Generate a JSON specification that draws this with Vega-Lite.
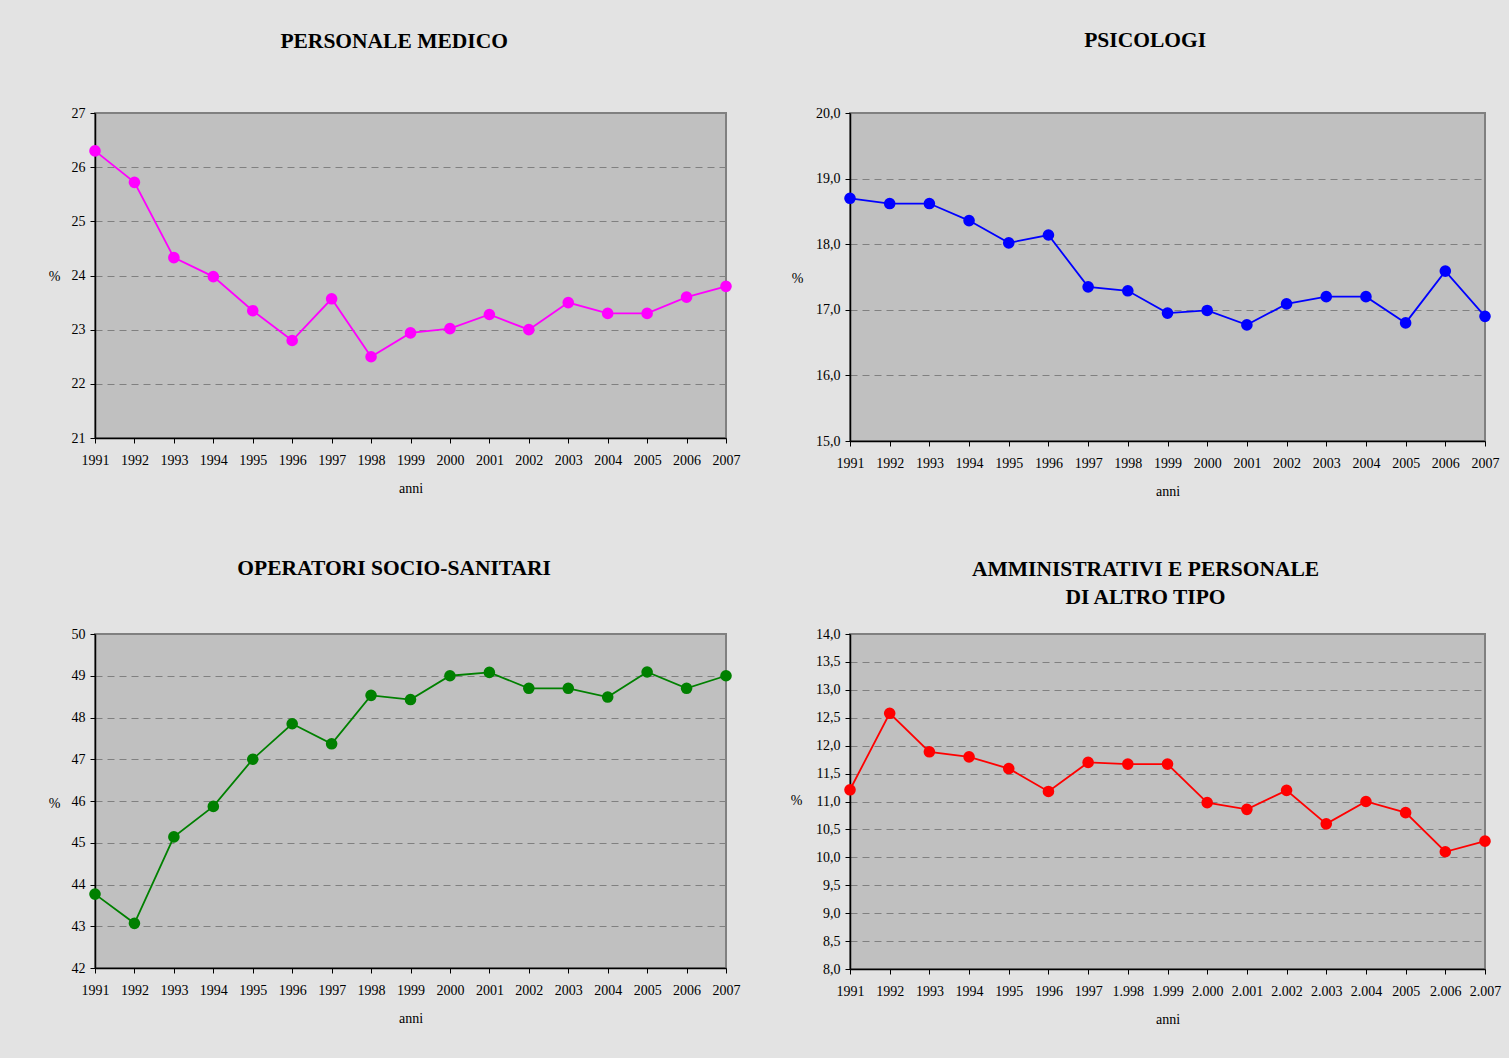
{
  "$schema": "https://vega.github.io/schema/vega-lite/v6.json",
  "background": "#e3e3e3",
  "padding": {"left": 47, "top": 28, "right": 7, "bottom": 31},
  "datasets": {
    "medico": [
      {"anno": "1991", "valore": 26.3},
      {"anno": "1992", "valore": 25.72},
      {"anno": "1993", "valore": 24.33},
      {"anno": "1994", "valore": 23.98},
      {"anno": "1995", "valore": 23.35},
      {"anno": "1996", "valore": 22.8},
      {"anno": "1997", "valore": 23.57},
      {"anno": "1998", "valore": 22.5},
      {"anno": "1999", "valore": 22.94},
      {"anno": "2000", "valore": 23.02},
      {"anno": "2001", "valore": 23.28},
      {"anno": "2002", "valore": 23.0},
      {"anno": "2003", "valore": 23.5},
      {"anno": "2004", "valore": 23.3},
      {"anno": "2005", "valore": 23.3},
      {"anno": "2006", "valore": 23.6},
      {"anno": "2007", "valore": 23.8}
    ],
    "psicologi": [
      {"anno": "1991", "valore": 18.7},
      {"anno": "1992", "valore": 18.62},
      {"anno": "1993", "valore": 18.62},
      {"anno": "1994", "valore": 18.36},
      {"anno": "1995", "valore": 18.02},
      {"anno": "1996", "valore": 18.14},
      {"anno": "1997", "valore": 17.35},
      {"anno": "1998", "valore": 17.29},
      {"anno": "1999", "valore": 16.95},
      {"anno": "2000", "valore": 16.99},
      {"anno": "2001", "valore": 16.77},
      {"anno": "2002", "valore": 17.09},
      {"anno": "2003", "valore": 17.2},
      {"anno": "2004", "valore": 17.2},
      {"anno": "2005", "valore": 16.8},
      {"anno": "2006", "valore": 17.59},
      {"anno": "2007", "valore": 16.9}
    ],
    "oss": [
      {"anno": "1991", "valore": 43.77},
      {"anno": "1992", "valore": 43.07},
      {"anno": "1993", "valore": 45.14},
      {"anno": "1994", "valore": 45.87},
      {"anno": "1995", "valore": 47.0},
      {"anno": "1996", "valore": 47.85},
      {"anno": "1997", "valore": 47.37},
      {"anno": "1998", "valore": 48.53},
      {"anno": "1999", "valore": 48.43},
      {"anno": "2000", "valore": 49.0},
      {"anno": "2001", "valore": 49.08},
      {"anno": "2002", "valore": 48.7},
      {"anno": "2003", "valore": 48.7},
      {"anno": "2004", "valore": 48.49},
      {"anno": "2005", "valore": 49.09},
      {"anno": "2006", "valore": 48.7},
      {"anno": "2007", "valore": 49.0}
    ],
    "amministrativi": [
      {"anno": "1991", "valore": 11.21},
      {"anno": "1992", "valore": 12.58},
      {"anno": "1993", "valore": 11.89},
      {"anno": "1994", "valore": 11.8},
      {"anno": "1995", "valore": 11.59},
      {"anno": "1996", "valore": 11.18},
      {"anno": "1997", "valore": 11.7},
      {"anno": "1.998", "valore": 11.67},
      {"anno": "1.999", "valore": 11.67},
      {"anno": "2.000", "valore": 10.98},
      {"anno": "2.001", "valore": 10.86},
      {"anno": "2.002", "valore": 11.2},
      {"anno": "2.003", "valore": 10.6},
      {"anno": "2.004", "valore": 11.0},
      {"anno": "2005", "valore": 10.8},
      {"anno": "2.006", "valore": 10.1},
      {"anno": "2.007", "valore": 10.29}
    ]
  },
  "bounds": "flush",
  "align": "each",
  "columns": 2,
  "spacing": {"row": 193, "column": 124},
  "concat": [
    {
      "width": 631,
      "height": 325,
      "title": {"text": "PERSONALE MEDICO", "offset": 54},
      "data": {"name": "medico"},
      "mark": {"type": "line", "color": "#ff00ff", "strokeWidth": 1.8, "point": {"filled": true, "size": 135, "color": "#ff00ff", "opacity": 1}},
      "encoding": {
        "x": {"field": "anno", "type": "ordinal", "sort": null, "scale": {"type": "point", "padding": 0}, "axis": {"title": "anni"}},
        "y": {"field": "valore", "type": "quantitative", "scale": {"domain": [21, 27], "nice": false, "zero": false},
          "axis": {"title": "%", "values": [21, 22, 23, 24, 25, 26, 27], "titleX": -35, "titleY": 163}}
      }
    },
    {
      "width": 635,
      "height": 328,
      "title": {"text": "PSICOLOGI", "offset": 55},
      "data": {"name": "psicologi"},
      "mark": {"type": "line", "color": "#0000ff", "strokeWidth": 1.8, "point": {"filled": true, "size": 135, "color": "#0000ff", "opacity": 1}},
      "encoding": {
        "x": {"field": "anno", "type": "ordinal", "sort": null, "scale": {"type": "point", "padding": 0}, "axis": {"title": "anni"}},
        "y": {"field": "valore", "type": "quantitative", "scale": {"domain": [15, 20], "nice": false, "zero": false},
          "axis": {"title": "%", "values": [15, 16, 17, 18, 19, 20], "labelExpr": "replace(format(datum.value, '.1f'), '.', ',')", "titleX": -47, "titleY": 165}}
      }
    },
    {
      "width": 631,
      "height": 334,
      "title": {"text": "OPERATORI SOCIO-SANITARI", "offset": 48},
      "data": {"name": "oss"},
      "mark": {"type": "line", "color": "#008000", "strokeWidth": 1.8, "point": {"filled": true, "size": 135, "color": "#008000", "opacity": 1}},
      "encoding": {
        "x": {"field": "anno", "type": "ordinal", "sort": null, "scale": {"type": "point", "padding": 0}, "axis": {"title": "anni"}},
        "y": {"field": "valore", "type": "quantitative", "scale": {"domain": [42, 50], "nice": false, "zero": false},
          "axis": {"title": "%", "values": [42, 43, 44, 45, 46, 47, 48, 49, 50], "titleX": -35, "titleY": 169}}
      }
    },
    {
      "width": 635,
      "height": 335,
      "title": {"text": ["AMMINISTRATIVI E PERSONALE", "DI ALTRO TIPO"], "offset": 19, "lineHeight": 28},
      "data": {"name": "amministrativi"},
      "mark": {"type": "line", "color": "#ff0000", "strokeWidth": 1.8, "point": {"filled": true, "size": 135, "color": "#ff0000", "opacity": 1}},
      "encoding": {
        "x": {"field": "anno", "type": "ordinal", "sort": null, "scale": {"type": "point", "padding": 0}, "axis": {"title": "anni"}},
        "y": {"field": "valore", "type": "quantitative", "scale": {"domain": [8, 14], "nice": false, "zero": false},
          "axis": {"title": "%", "values": [8, 8.5, 9, 9.5, 10, 10.5, 11, 11.5, 12, 12.5, 13, 13.5, 14], "labelExpr": "replace(format(datum.value, '.1f'), '.', ',')", "titleX": -48, "titleY": 166}}
      }
    }
  ],
  "config": {
    "font": "Liberation Serif",
    "view": {"fill": "#c0c0c0", "stroke": "#808080", "strokeWidth": 2},
    "title": {"font": "Liberation Serif", "fontSize": 21.5, "fontWeight": "bold", "color": "#000000", "anchor": "middle", "frame": "bounds"},
    "axis": {
      "labelFont": "Liberation Serif", "labelFontSize": 14, "labelColor": "#000000",
      "titleFont": "Liberation Serif", "titleFontSize": 14, "titleFontWeight": "normal", "titleColor": "#000000",
      "domainColor": "#000000", "domainWidth": 1.5, "tickColor": "#000000", "tickSize": 5, "tickWidth": 1
    },
    "axisX": {"grid": false, "labelAngle": 0, "labelPadding": 10, "titlePadding": 14, "labelFlush": false, "labelOverlap": false},
    "axisY": {"grid": true, "gridColor": "#808080", "gridDash": [7, 5], "gridWidth": 1, "labelPadding": 5, "titleAngle": 0, "titleAlign": "right", "titleBaseline": "middle", "labelFlush": false, "labelOverlap": false}
  }
}
